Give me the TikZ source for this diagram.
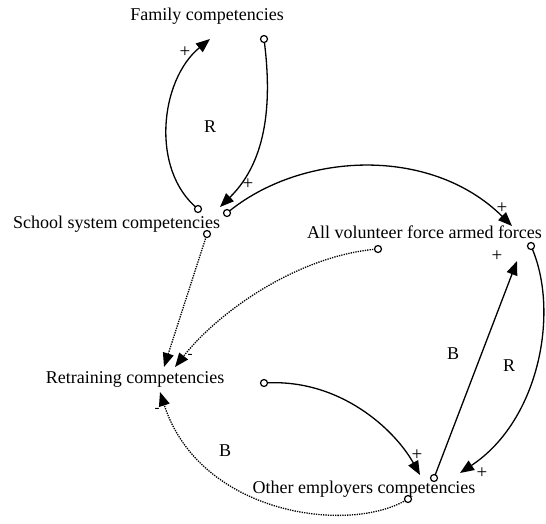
\documentclass[tikz,border=0pt]{standalone}
\usepackage{fontspec}
\setmainfont{Liberation Serif}
\usetikzlibrary{arrows.meta}
\begin{document}
\begin{tikzpicture}[x=1pt,y=-1pt,
  lbl/.style={inner sep=0pt,anchor=base,font=\fontsize{18}{20}\selectfont},
  sgn/.style={inner sep=0pt,font=\fontsize{19}{20}\selectfont},
  dsh/.style={inner sep=0pt,font=\fontsize{15}{16}\selectfont},
  loopl/.style={inner sep=0pt,font=\fontsize{18}{20}\selectfont},
  link/.style={line width=1.3pt,-{Triangle[length=14pt,width=11pt]}},
  dlink/.style={line width=1.3pt,dash pattern=on 1.3pt off 1.1pt,-{Triangle[length=14pt,width=11pt]}},
  tail/.style={draw,fill=white,line width=1.2pt,circle,inner sep=0pt,minimum size=7pt}]
\useasboundingbox (0,0) rectangle (546,523);
% variables
\node[lbl] (fam) at (207,20) {Family competencies};
\node[lbl] (sch) at (116.5,228) {School system competencies};
\node[lbl] (avf) at (424.5,238) {All volunteer force armed forces};
\node[lbl] (ret) at (135,383) {Retraining competencies};
\node[lbl] (oth) at (364,493) {Other employers competencies};
% tail and head points
\coordinate (famOut) at (264,39);
\coordinate (famIn) at (210,39);
\coordinate (schOutA) at (198,209);
\coordinate (schOutB) at (227,213);
\coordinate (schOutC) at (207,234);
\coordinate (schIn) at (220,207);
\coordinate (avfIn) at (512,226);
\coordinate (avfInB) at (517,261);
\coordinate (avfOutA) at (378,249);
\coordinate (avfOutB) at (531,246);
\coordinate (retInA) at (164,367);
\coordinate (retInB) at (175,367);
\coordinate (retInC) at (160,392);
\coordinate (retOut) at (264,383);
\coordinate (othInA) at (420,475);
\coordinate (othInB) at (460,473);
\coordinate (othOutA) at (434,478);
\coordinate (othOutB) at (408,499);
% connectors
\draw[link] (schOutA) .. controls (150,170) and (160,80) .. (famIn);
\draw[link] (famOut) .. controls (272,100) and (268,160) .. (schIn);
\draw[link] (schOutB) .. controls (300,152) and (430,145) .. (avfIn);
\draw[dlink] (schOutC) -- (retInA);
\draw[dlink] (avfOutA) .. controls (300,255) and (220,310) .. (retInB);
\draw[link] (avfOutB) .. controls (560,310) and (540,420) .. (othInB);
\draw[link] (othOutA) -- (avfInB);
\draw[link] (retOut) .. controls (340,378) and (395,430) .. (othInA);
\draw[dlink] (othOutB) .. controls (350,535) and (200,515) .. (retInC);
% tails
\foreach \p in {famOut,schOutA,schOutB,schOutC,avfOutA,avfOutB,retOut,othOutA,othOutB}
  \node[tail] at (\p) {};
% polarities and loop labels
\node[sgn] (p1) at (185,52) {+};
\node[loopl] (l1) at (210,127) {R};
\node[sgn] (p2) at (248,184) {+};
\node[sgn] (p3) at (502,208) {+};
\node[sgn] (p4) at (497,256) {+};
\node[dsh] (m1) at (190,356) {-};
\node[loopl] (l2) at (453,354) {B};
\node[loopl] (l3) at (509,366) {R};
\node[sgn] (p5) at (417,455) {+};
\node[sgn] (p6) at (482,473) {+};
\node[dsh] (m2) at (157,410) {-};
\node[loopl] (l4) at (225,451) {B};
\end{tikzpicture}
\end{document}
